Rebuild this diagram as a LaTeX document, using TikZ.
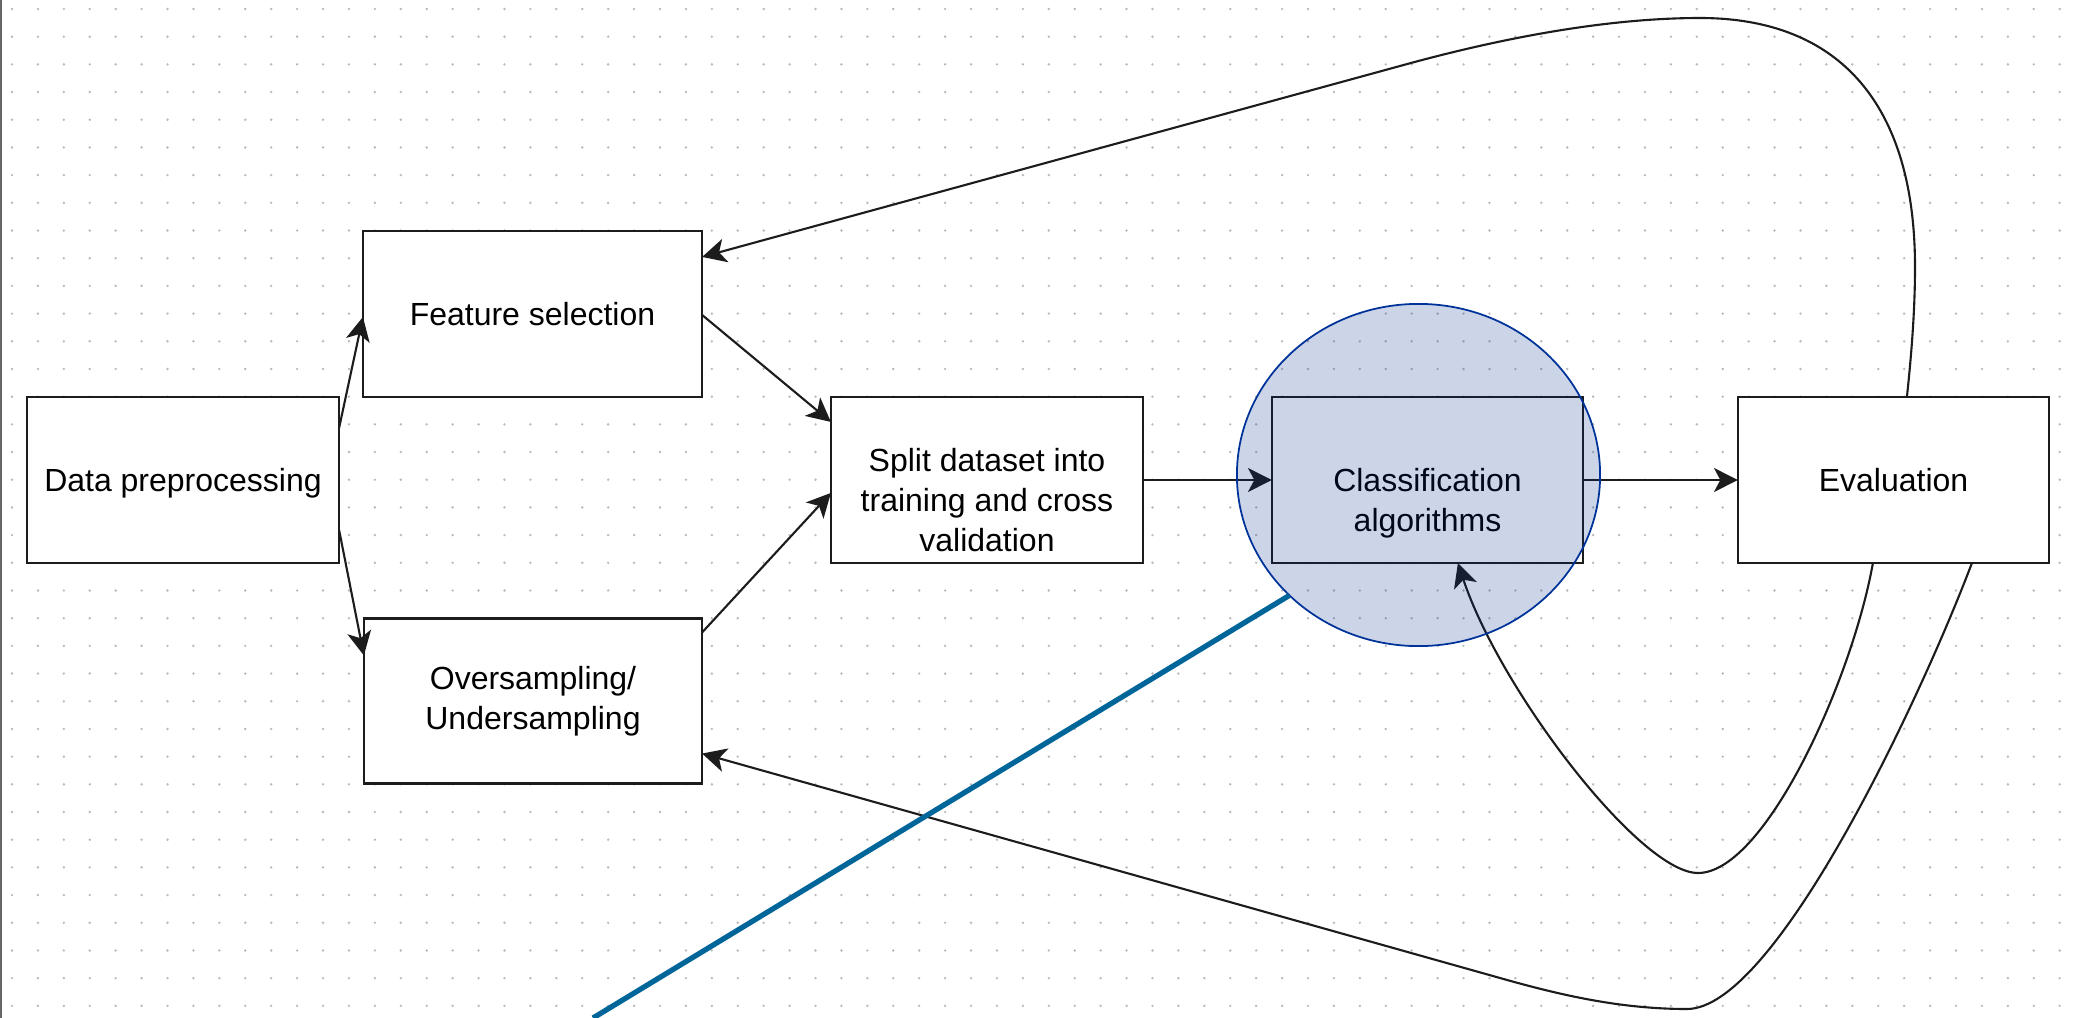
\documentclass[tikz,border=0pt]{standalone}
\usepackage{fontspec}
\setmainfont{Liberation Sans}
\usetikzlibrary{shapes.geometric,arrows.meta,calc}
\definecolor{dotc}{RGB}{185,185,185}
\definecolor{hlfill}{RGB}{0,45,140}
\definecolor{hldraw}{RGB}{0,51,153}
\definecolor{pointer}{RGB}{0,102,153}
\definecolor{edgec}{RGB}{28,28,28}
\begin{document}
\begin{tikzpicture}[x=0.01cm,y=-0.01cm,
  txt/.style={font=\fontsize{9.1pt}{11.4pt}\selectfont, align=center, inner sep=0pt},
  box/.style={draw=edgec, fill=white, line width=0.62pt, inner sep=0pt, outer sep=0pt, txt},
  conn/.style={draw=edgec, line width=0.6pt, -{Stealth[length=6.8pt,width=6.8pt,inset=1.8pt]}},
]
\useasboundingbox (0,0) rectangle (2078,1018);
% dotted grid
\fill[dotc] \foreach \i in {0,...,79}{\foreach \j in {0,...,36}{({12+25.92*\i},{9+27.69*\j}) circle (0.38pt)}};
% left border
\draw[black!60, line width=0.6pt] (1,0) -- (1,1018);

% boxes
\node[box, minimum width=3.12cm, minimum height=1.66cm, text depth=0pt] (dp) at (183,480) {Data preprocessing};
\node[box, minimum width=3.39cm, minimum height=1.66cm] (fs) at (532.5,314) {Feature selection};
\node[box, minimum width=3.38cm, minimum height=1.65cm] (os) at (533,701) {Oversampling/\\Undersampling};
\node[box, minimum width=3.12cm, minimum height=1.66cm,
  label={[txt, yshift=-0.2cm]center:{Split dataset into\\training and cross\\validation}}] (sp) at (987,480) {};
\node[box, minimum width=3.11cm, minimum height=1.66cm,
  label={[txt, yshift=-0.23cm]center:{Classification\\algorithms}}] (cl) at (1427.5,480) {};
\node[box, minimum width=3.11cm, minimum height=1.66cm] (ev) at (1893.5,480) {Evaluation};

% connectors
\draw[conn] ($(dp.north east)+(0,31)$) -- ($(fs.north west)+(0,86)$);
\draw[conn] ($(dp.north east)+(0,133)$) -- ($(os.north west)+(0,37)$);
\draw[conn] ($(fs.north east)+(0,84)$) -- ($(sp.north west)+(0,25)$);
\draw[conn] ($(os.north east)+(0,14)$) -- ($(sp.north west)+(0,96)$);
\draw[conn] (sp.east) -- (cl.west);
\draw[conn] (cl.east) -- (ev.west);

% feedback curves
\draw[conn] ($(ev.north west)+(169,0)$) .. controls (1913,340) and (1915,300) .. (1915,267)
  .. controls (1915,105) and (1840,18) .. (1700,18)
  .. controls (1600,18) and (1490,41) .. (1400,66)
  -- ($(fs.north east)+(0,26)$);
\draw[conn] ($(ev.south west)+(135,0)$) .. controls (1852,680) and (1765,873) .. (1698,873)
  .. controls (1640,873) and (1500,690) .. ($(cl.south west)+(186,0)$);
\draw[conn] ($(ev.south west)+(234,0)$) .. controls (1920,700) and (1775,1009) .. (1687,1009)
  .. controls (1620,1009) and (1560,995) .. (1500,978)
  -- ($(os.south east)+(0,-30)$);

% highlight ellipse and pointer line
\node[ellipse, draw=hldraw, fill=hlfill, fill opacity=0.2, draw opacity=1, line width=0.5pt,
  minimum width=3.63cm, minimum height=3.42cm, inner sep=0pt, outer sep=0pt] (hl) at (1418.5,475) {};
\coordinate (pend) at (593,1018);
\draw[pointer, line width=1.5pt] (hl.223) -- (pend);
\end{tikzpicture}
\end{document}
